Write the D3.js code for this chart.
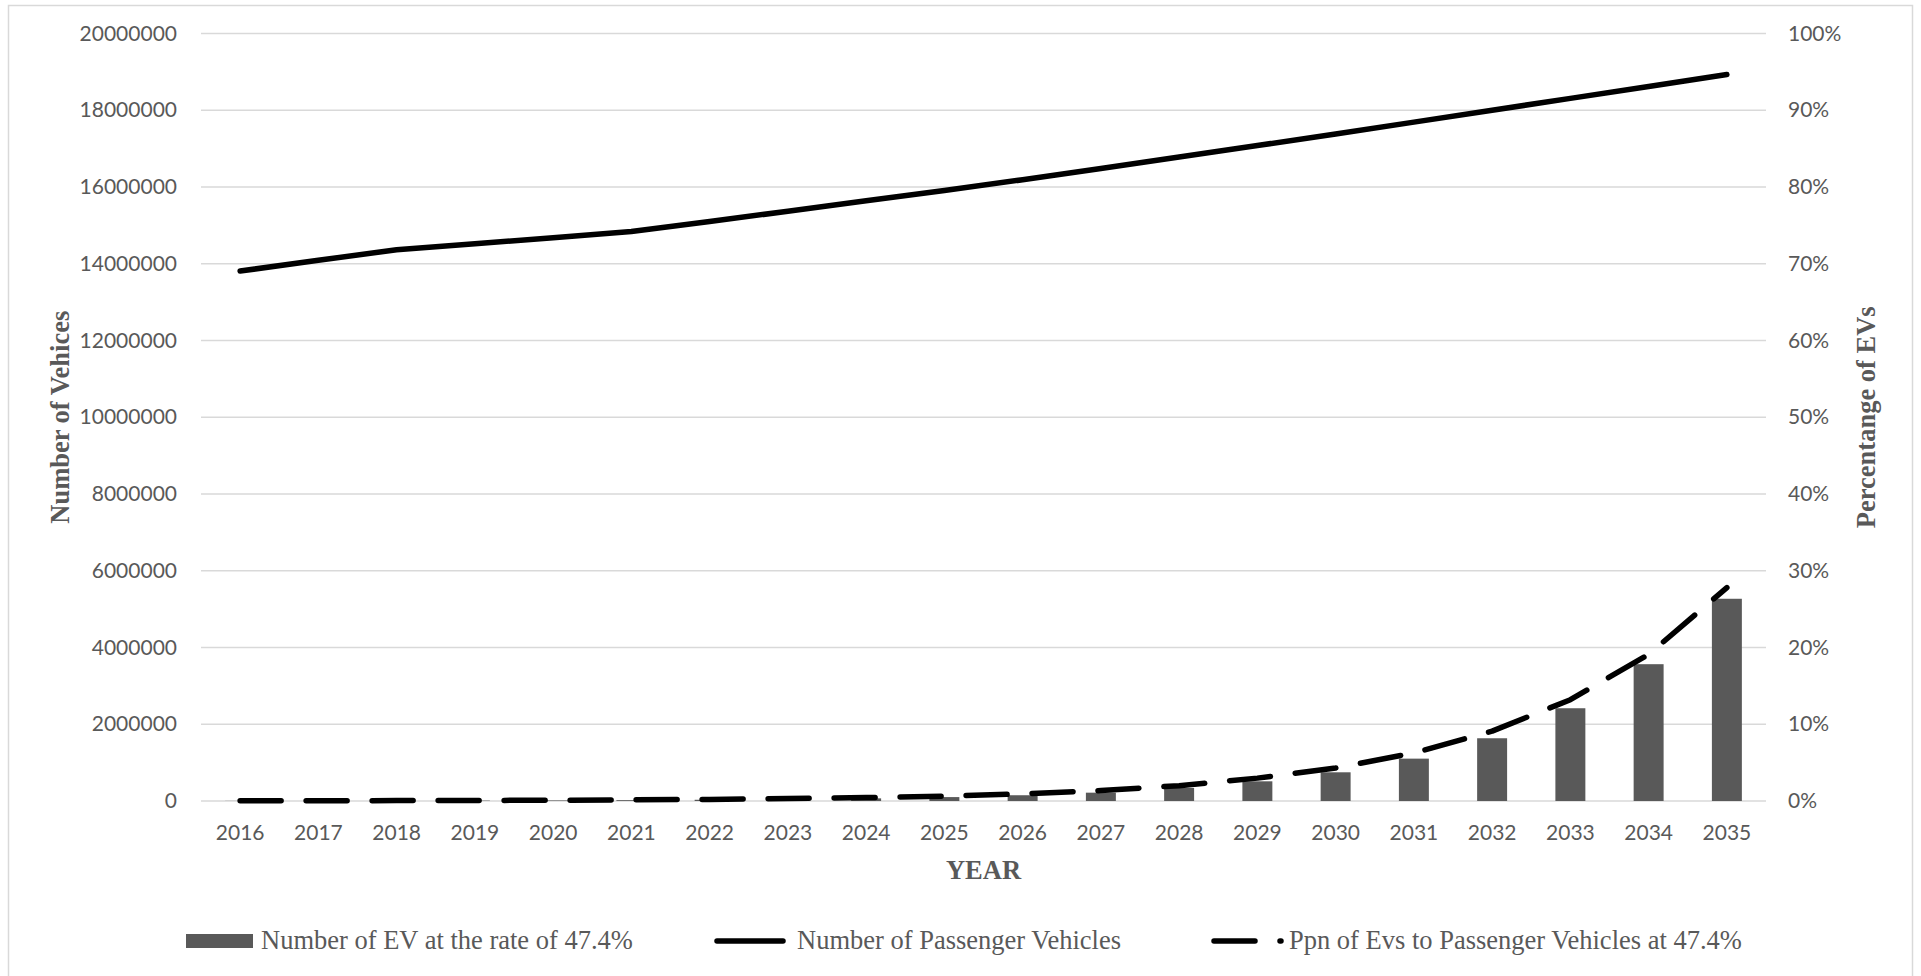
<!DOCTYPE html>
<html>
<head>
<meta charset="utf-8">
<script src="https://cdn.jsdelivr.net/npm/d3@7/dist/d3.min.js"></script>
<style>
  html, body { margin: 0; padding: 0; background: #fff; }
  svg { display: block; }
  .tick text { font-family: Lato, "Noto Sans", sans-serif; font-size: 21px; fill: #595959; }
  .serif { font-family: "Liberation Serif", "Times New Roman", serif; fill: #595959; }
</style>
</head>
<body>
<svg id="chart" width="1921" height="976"></svg>
<script>
// Years on the category axis
const years = ["2016","2017","2018","2019","2020","2021","2022","2023","2024","2025",
               "2026","2027","2028","2029","2030","2031","2032","2033","2034","2035"];

// Number of EVs at a 47.4% yearly growth rate (bars, left axis)
const evCount = [3100, 4600, 6800, 10000, 14700, 21700, 32000, 47000, 69000, 102000,
                 150000, 217000, 339000, 513000, 748000, 1104000, 1635000, 2417000, 3565000, 5270000];

// Total passenger vehicles (solid line, left axis)
const passengerVehicles = [13810000, 14090000, 14365000, 14520000, 14680000, 14840000, 15100000, 15370000, 15640000, 15910000,
                           16190000, 16480000, 16780000, 17080000, 17380000, 17690000, 18000000, 18310000, 18620000, 18930000];

// Share of EVs among passenger vehicles (dashed line, right axis)
const evShare = [0.0002, 0.0004, 0.0005, 0.0007, 0.0010, 0.0015, 0.0021, 0.0031, 0.0045, 0.0064,
                 0.0093, 0.0136, 0.0200, 0.0298, 0.0430, 0.0625, 0.0910, 0.1320, 0.1910, 0.2780];

// Axis tick values
const leftTicks = d3.range(0, 20000001, 2000000);
const rightTicks = d3.range(0, 1.0001, 0.1);

const svg = d3.select("#chart");
const plot = { left: 201, right: 1766, top: 33.5, bottom: 801 };

// Outer chart border
svg.append("rect")
  .attr("x", 8.5).attr("y", 5.5)
  .attr("width", 1904).attr("height", 990)
  .attr("fill", "none").attr("stroke", "#d9d9d9").attr("stroke-width", 1.5);

const x = d3.scaleBand()
  .domain(years)
  .range([plot.left, plot.right])
  .paddingInner(0.617)
  .paddingOuter(0.3085);
const cx = d => x(d) + x.bandwidth() / 2;

const yLeft = d3.scaleLinear().domain([0, 20000000]).range([plot.bottom, plot.top]);
const yRight = d3.scaleLinear().domain([0, 1]).range([plot.bottom, plot.top]);

// Horizontal gridlines
svg.append("g")
  .selectAll("line")
  .data(leftTicks)
  .join("line")
  .attr("x1", plot.left).attr("x2", plot.right)
  .attr("y1", d => yLeft(d)).attr("y2", d => yLeft(d))
  .attr("stroke", "#d9d9d9").attr("stroke-width", 1.5);

// Left axis labels
const gLeft = svg.append("g")
  .attr("transform", `translate(${plot.left},0)`)
  .call(d3.axisLeft(yLeft).tickValues(leftTicks).tickSize(0).tickPadding(24).tickFormat(d3.format("d")));
gLeft.select(".domain").remove();

// Right axis labels
const gRight = svg.append("g")
  .attr("transform", `translate(${plot.right},0)`)
  .call(d3.axisRight(yRight).tickValues(rightTicks).tickSize(0).tickPadding(22).tickFormat(d3.format(".0%")));
gRight.select(".domain").remove();

// Category axis labels
const gBottom = svg.append("g")
  .attr("transform", `translate(0,${plot.bottom})`)
  .call(d3.axisBottom(x).tickSize(0).tickPadding(24));
gBottom.select(".domain").remove();

// EV bars
svg.append("g")
  .selectAll("rect")
  .data(years)
  .join("rect")
  .attr("x", d => x(d))
  .attr("width", x.bandwidth())
  .attr("y", (d, i) => yLeft(evCount[i]))
  .attr("height", (d, i) => plot.bottom - yLeft(evCount[i]))
  .attr("fill", "#595959");

// Passenger vehicles line
const lineLeft = d3.line().x((d, i) => cx(years[i])).y(d => yLeft(d));
svg.append("path")
  .datum(passengerVehicles)
  .attr("d", lineLeft)
  .attr("fill", "none").attr("stroke", "#000")
  .attr("stroke-width", 5.5).attr("stroke-linecap", "round").attr("stroke-linejoin", "round");

// EV share line
const lineRight = d3.line().x((d, i) => cx(years[i])).y(d => yRight(d));
svg.append("path")
  .datum(evShare)
  .attr("d", lineRight)
  .attr("fill", "none").attr("stroke", "#000")
  .attr("stroke-width", 5.5).attr("stroke-dasharray", "41 25")
  .attr("stroke-linecap", "round").attr("stroke-linejoin", "round");

// Axis titles
const midY = (plot.top + plot.bottom) / 2;
svg.append("text")
  .attr("class", "serif")
  .attr("transform", `translate(69,${midY}) rotate(-90)`)
  .attr("text-anchor", "middle")
  .attr("font-size", 26.5).attr("font-weight", "bold")
  .text("Number of Vehices");

svg.append("text")
  .attr("class", "serif")
  .attr("transform", `translate(1875,${midY}) rotate(-90)`)
  .attr("text-anchor", "middle")
  .attr("font-size", 26.5).attr("font-weight", "bold")
  .text("Percentange of EVs");

svg.append("text")
  .attr("class", "serif")
  .attr("x", (plot.left + plot.right) / 2).attr("y", 879)
  .attr("text-anchor", "middle")
  .attr("font-size", 26.5).attr("font-weight", "bold")
  .text("YEAR");

// Legend
const legendY = 941;
const legend = svg.append("g");
legend.append("rect")
  .attr("x", 186).attr("y", legendY - 7).attr("width", 67).attr("height", 14)
  .attr("fill", "#595959");
legend.append("text")
  .attr("class", "serif").attr("x", 261).attr("y", 949).attr("font-size", 26.5)
  .text("Number of EV at the rate of 47.4%");

legend.append("line")
  .attr("x1", 717).attr("x2", 783).attr("y1", legendY).attr("y2", legendY)
  .attr("stroke", "#000").attr("stroke-width", 5.5).attr("stroke-linecap", "round");
legend.append("text")
  .attr("class", "serif").attr("x", 797).attr("y", 949).attr("font-size", 26.5)
  .text("Number of Passenger Vehicles");

legend.append("line")
  .attr("x1", 1214).attr("x2", 1281).attr("y1", legendY).attr("y2", legendY)
  .attr("stroke", "#000").attr("stroke-width", 5.5)
  .attr("stroke-dasharray", "41 25").attr("stroke-linecap", "round");
legend.append("text")
  .attr("class", "serif").attr("x", 1289).attr("y", 949).attr("font-size", 26.5)
  .text("Ppn of Evs to Passenger Vehicles at 47.4%");
</script>
</body>
</html>
